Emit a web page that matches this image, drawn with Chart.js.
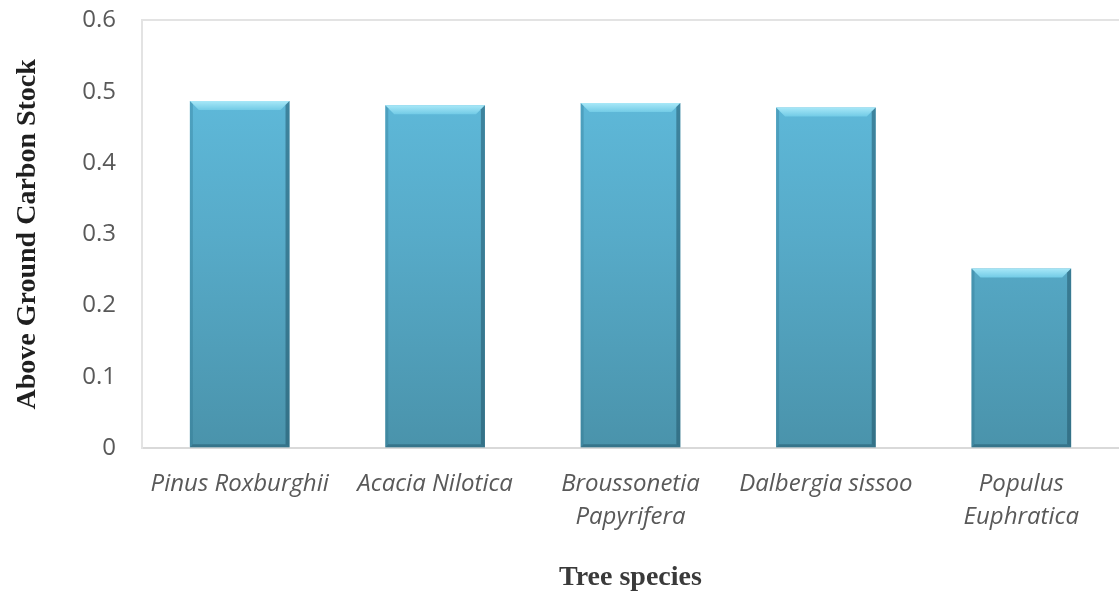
<!DOCTYPE html>
<html>
<head>
<meta charset="utf-8">
<script src="https://cdn.jsdelivr.net/npm/chart.js@4/dist/chart.umd.min.js"></script>
<style>
  html, body { margin: 0; padding: 0; background: #fff; }
  #wrap { width: 1119px; height: 595px; }
</style>
</head>
<body>
<div id="wrap"><canvas id="carbonChart" width="1119" height="595"></canvas></div>
<script>
// chart data
const species = [
    ['Pinus Roxburghii'],
    ['Acacia Nilotica'],
    ['Broussonetia', 'Papyrifera'],
    ['Dalbergia sissoo'],
    ['Populus', 'Euphratica']
];
const carbonStock = [0.487, 0.481, 0.484, 0.478, 0.252];
const yTicks = [0, 0.1, 0.2, 0.3, 0.4, 0.5, 0.6];

// body gradient of each bar
function barFill(context) {
    const chart = context.chart;
    const area = chart.chartArea;
    if (!area) return '#56aacb';
    const g = chart.ctx.createLinearGradient(0, area.top, 0, area.bottom);
    g.addColorStop(0, '#62c0e2');
    g.addColorStop(0.5, '#57abc9');
    g.addColorStop(1, '#4a93ab');
    return g;
}

// bevelled edges, drawn over the bars the library placed
const bevelPlugin = {
    id: 'bevel',
    afterDatasetsDraw(chart) {
        const ctx = chart.ctx;
        const meta = chart.getDatasetMeta(0);
        const b = 9;
        meta.data.forEach(bar => {
            const l = bar.x - bar.width / 2;
            const r = bar.x + bar.width / 2;
            const t = bar.y;
            const bt = bar.base;
            ctx.save();
            // top
            let g = ctx.createLinearGradient(0, t, 0, t + b);
            g.addColorStop(0, '#a8e8f8');
            g.addColorStop(1, '#72cbe6');
            ctx.fillStyle = g;
            ctx.beginPath();
            ctx.moveTo(l, t); ctx.lineTo(r, t); ctx.lineTo(r - b, t + b); ctx.lineTo(l + b, t + b);
            ctx.closePath(); ctx.fill();
            // left
            ctx.fillStyle = 'rgba(40,110,135,0.3)';
            ctx.beginPath();
            ctx.moveTo(l, t); ctx.lineTo(l + 3, t + 3); ctx.lineTo(l + 3, bt - 3); ctx.lineTo(l, bt);
            ctx.closePath(); ctx.fill();
            // right
            ctx.fillStyle = 'rgba(30,80,100,0.5)';
            ctx.beginPath();
            ctx.moveTo(r, t); ctx.lineTo(r - 4, t + 4); ctx.lineTo(r - 4, bt - 3); ctx.lineTo(r, bt);
            ctx.closePath(); ctx.fill();
            // bottom
            ctx.fillStyle = 'rgba(30,80,100,0.45)';
            ctx.beginPath();
            ctx.moveTo(l, bt); ctx.lineTo(l + 3, bt - 3); ctx.lineTo(r - 4, bt - 3); ctx.lineTo(r, bt);
            ctx.closePath(); ctx.fill();
            ctx.restore();
        });
    }
};

new Chart(document.getElementById('carbonChart'), {
    type: 'bar',
    data: {
        labels: species,
        datasets: [{
            data: carbonStock,
            backgroundColor: barFill,
            borderWidth: 0,
            categoryPercentage: 1,
            barPercentage: 0.51
        }]
    },
    options: {
        responsive: false,
        animation: false,
        layout: { padding: { left: 4, right: 0, top: 0, bottom: 0 } },
        plugins: {
            legend: { display: false },
            tooltip: { enabled: false }
        },
        scales: {
            x: {
                grid: { display: false, drawTicks: false },
                border: { display: true, color: '#d9d9d9', width: 2 },
                ticks: {
                    color: '#595959',
                    padding: 19,
                    maxRotation: 0,
                    autoSkip: false,
                    font: { family: 'Open Sans', size: 24, style: 'italic', lineHeight: 1.4 }
                },
                title: {
                    display: true,
                    text: 'Tree species',
                    color: '#3a3a3a',
                    padding: { top: 8, bottom: 0 },
                    font: { family: 'Liberation Serif', size: 28, weight: 'bold' }
                }
            },
            y: {
                min: 0,
                max: 0.6,
                afterBuildTicks(axis) {
                    axis.ticks = yTicks.map(v => ({ value: v }));
                },
                grid: {
                    drawTicks: true,
                    tickLength: 20,
                    tickColor: 'rgba(0,0,0,0)',
                    color: ctx => (ctx.tick && ctx.tick.value === 0.6) ? '#e3e3e3' : 'rgba(0,0,0,0)',
                    lineWidth: 2
                },
                border: { display: true, color: '#e3e3e3', width: 2 },
                ticks: {
                    color: '#595959',
                    padding: 6,
                    font: { family: 'Open Sans', size: 24 }
                },
                title: {
                    display: true,
                    text: 'Above Ground Carbon Stock',
                    color: '#1f1f1f',
                    padding: { top: 7, bottom: 30 },
                    font: { family: 'Liberation Serif', size: 28, weight: 'bold' }
                },
                afterFit(axis) { axis.width = 138; }
            }
        }
    },
    plugins: [bevelPlugin]
});
</script>
</body>
</html>
